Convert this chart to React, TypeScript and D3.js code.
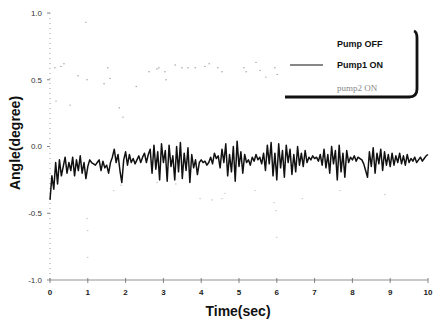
import React from "react";
import * as d3 from "d3";

const W = 433;
const H = 324;

const xTicks = [0, 1, 2, 3, 4, 5, 6, 7, 8, 9, 10];
const yTicks = [1.0, 0.5, 0.0, -0.5, -1.0];
const yTickLabels = ["1.0", "0.5", "0.0", "-0.5", "-1.0"];
const legendLabels = ["Pump OFF", "Pump1 ON", "pump2 ON"];

const sampleStep = 0.05;
// Pump1 ON angle (deg), sampled every 0.05 s from 0 to 10 s
const pump1On = [
  -0.40, -0.22, -0.32, -0.12, -0.28, -0.10, -0.22, -0.15, -0.08, -0.20, -0.12, -0.18, -0.08, -0.22, -0.10, -0.18, -0.07, -0.20, -0.12, -0.24,
  -0.15, -0.10, -0.12, -0.13, -0.14, -0.12, -0.10, -0.18, -0.11, -0.16, -0.14, -0.20, -0.12, -0.08, -0.02, -0.12, -0.06, -0.18, -0.27, -0.10,
  -0.04, -0.14, -0.06, -0.12, -0.09, -0.13, -0.10, -0.07, -0.12, -0.08, -0.05, -0.12, -0.06, -0.02, -0.20, 0.01, -0.17, -0.04, -0.25, 0.02,
  -0.12, -0.03, -0.26, 0.01, -0.15, -0.07, -0.25, 0.00, -0.19, 0.03, -0.24, -0.05, -0.18, -0.01, -0.27, -0.06, -0.16, -0.10, -0.21, -0.12,
  -0.10, -0.12, -0.11, -0.14, -0.12, -0.08, -0.13, -0.05, -0.09, -0.07, -0.16, -0.02, -0.12, 0.02, -0.22, -0.06, -0.19, 0.00, -0.26, 0.04,
  -0.15, -0.04, -0.20, -0.06, -0.12, -0.10, -0.14, -0.08, -0.11, -0.06, -0.10, -0.08, -0.13, -0.05, -0.18, 0.01, -0.13, 0.03, -0.22, -0.05,
  -0.25, 0.02, -0.16, -0.03, -0.23, 0.01, -0.12, -0.02, -0.21, -0.06, -0.19, 0.00, -0.14, -0.05, -0.15, -0.03, -0.12, -0.08, -0.10, -0.07,
  -0.09, -0.08, -0.11, -0.06, -0.14, -0.02, -0.16, -0.06, -0.20, 0.00, -0.13, -0.03, -0.25, 0.01, -0.19, -0.05, -0.23, -0.03, -0.12, -0.08,
  -0.10, -0.07, -0.11, -0.08, -0.09, -0.10, -0.13, -0.18, -0.23, -0.04, -0.15, -0.01, -0.20, -0.05, -0.13, -0.02, -0.18, -0.04, -0.14, -0.06,
  -0.15, -0.05, -0.14, -0.07, -0.12, -0.05, -0.13, -0.07, -0.14, -0.06, -0.12, -0.09, -0.11, -0.08, -0.12, -0.10, -0.08, -0.11, -0.09, -0.07,
  -0.06,
];

// Faint (barely printed) Pump OFF trace: visible specks [time, angle]
const pumpOffT = [0.13, 0.29, 0.37, 0.74, 0.95, 0.98, 1.43, 1.53, 1.59, 2.28, 2.62, 2.83, 2.88, 3.04, 3.07, 3.31, 3.49, 3.65, 3.84, 4.10, 4.21, 4.44, 4.55, 5.13, 5.19, 5.45, 5.56, 5.71, 5.95, 6.01, 0.16, 0.53, 1.83, 1.93];
const pumpOffV = [0.59, 0.60, 0.62, 0.53, 0.93, 0.50, 0.47, 0.59, 0.51, 0.45, 0.56, 0.58, 0.59, 0.56, 0.50, 0.61, 0.59, 0.59, 0.59, 0.60, 0.62, 0.59, 0.56, 0.59, 0.56, 0.63, 0.57, 0.52, 0.59, 0.54, 0.34, 0.31, 0.29, 0.22];

// Faint pump2 ON trace specks
const pump2T = [0.32, 0.98, 1.0, 1.0, 1.69, 1.88, 2.83, 3.33, 3.97, 4.29, 4.55, 4.63, 5.42, 5.93, 5.98, 6.0, 6.67, 7.67, 8.86];
const pump2V = [-0.21, -0.54, -0.63, -0.83, -0.33, -0.29, -0.27, -0.28, -0.39, -0.40, -0.39, -0.35, -0.33, -0.42, -0.48, -0.68, -0.39, -0.33, -0.36];

export default function App() {
  const x = d3.scaleLinear().domain([0, 10]).range([50, 428]);
  const y = d3.scaleLinear().domain([-1, 1]).range([280, 13]);

  const line = d3
    .line<number>()
    .x((_, i) => x(i * sampleStep))
    .y((d) => y(d))
    .curve(d3.curveLinear);

  const sans = "Liberation Sans, Arial, Helvetica, sans-serif";

  // legend box geometry
  const lx0 = 283, lx1 = 417, ly0 = 30, ly1 = 97, r = 8;

  return (
    <svg
      width={W}
      height={H}
      viewBox={`0 0 ${W} ${H}`}
      style={{ position: "absolute", left: 0, top: 0, background: "#fff", display: "block" }}
    >
      <rect x={0} y={0} width={W} height={H} fill="#fff" />

      {/* y axis (dotted) */}
      <line x1={x(0)} x2={x(0)} y1={y(1)} y2={y(-1)} stroke="#888" strokeWidth={0.8} strokeDasharray="1,4" />
      {yTicks.map((t, i) => (
        <g key={"yt" + i}>
          <line x1={x(0) - 3} x2={x(0)} y1={y(t)} y2={y(t)} stroke="#666" strokeWidth={0.8} />
          <text x={x(0) - 8} y={y(t)} dy="0.35em" textAnchor="end" fontFamily={sans} fontSize={8} fill="#333">
            {yTickLabels[i]}
          </text>
        </g>
      ))}

      {/* x axis */}
      <line x1={x(0)} x2={x(10)} y1={y(-1)} y2={y(-1)} stroke="#777" strokeWidth={0.8} />
      {xTicks.map((t) => (
        <g key={"xt" + t}>
          <line x1={x(t)} x2={x(t)} y1={y(-1) - 2} y2={y(-1) + 3} stroke="#666" strokeWidth={0.8} />
          <text x={x(t)} y={y(-1) + 15} textAnchor="middle" fontFamily={sans} fontSize={8} fontWeight="bold" fill="#222">
            {t}
          </text>
        </g>
      ))}

      {/* faint traces */}
      {pumpOffT.map((t, i) => (
        <circle key={"po" + i} cx={x(t)} cy={y(pumpOffV[i])} r={0.7} fill="#999" />
      ))}
      {pump2T.map((t, i) => (
        <circle key={"p2" + i} cx={x(t)} cy={y(pump2V[i])} r={0.6} fill="#aaa" />
      ))}

      {/* Pump1 ON */}
      <path d={line(pump1On) || ""} fill="none" stroke="#111" strokeWidth={1.5} strokeLinejoin="round" />

      {/* legend */}
      <rect x={lx0} y={ly0} width={lx1 - lx0} height={ly1 - ly0} rx={r} fill="#fff" stroke="none" />
      <path
        d={`M${lx1 - 3},${ly0 + 1} Q${lx1},${ly0 + 2} ${lx1},${ly0 + 8} L${lx1},${ly1 - r} Q${lx1},${ly1} ${lx1 - r},${ly1} L${lx0 + 2},${ly1}`}
        fill="none"
        stroke="#111"
        strokeWidth={2.8}
      />
      <text x={337} y={47} fontFamily={sans} fontSize={9} fontWeight="bold" fill="#111">
        {legendLabels[0]}
      </text>
      <line x1={290} x2={323} y1={65} y2={65} stroke="#111" strokeWidth={1.1} />
      <text x={337} y={68} fontFamily={sans} fontSize={9} fontWeight="bold" fill="#111">
        {legendLabels[1]}
      </text>
      <text x={337} y={91} fontFamily="Liberation Serif, Times New Roman, serif" fontSize={9} fill="#888">
        {legendLabels[2]}
      </text>

      {/* axis titles */}
      <text
        transform="translate(20,143) rotate(-90)"
        textAnchor="middle"
        fontFamily={sans}
        fontSize={14}
        fontWeight="bold"
        fill="#111"
      >
        Angle(degree)
      </text>
      <text x={238} y={316} textAnchor="middle" fontFamily={sans} fontSize={14} fontWeight="bold" fill="#111">
        Time(sec)
      </text>
    </svg>
  );
}
